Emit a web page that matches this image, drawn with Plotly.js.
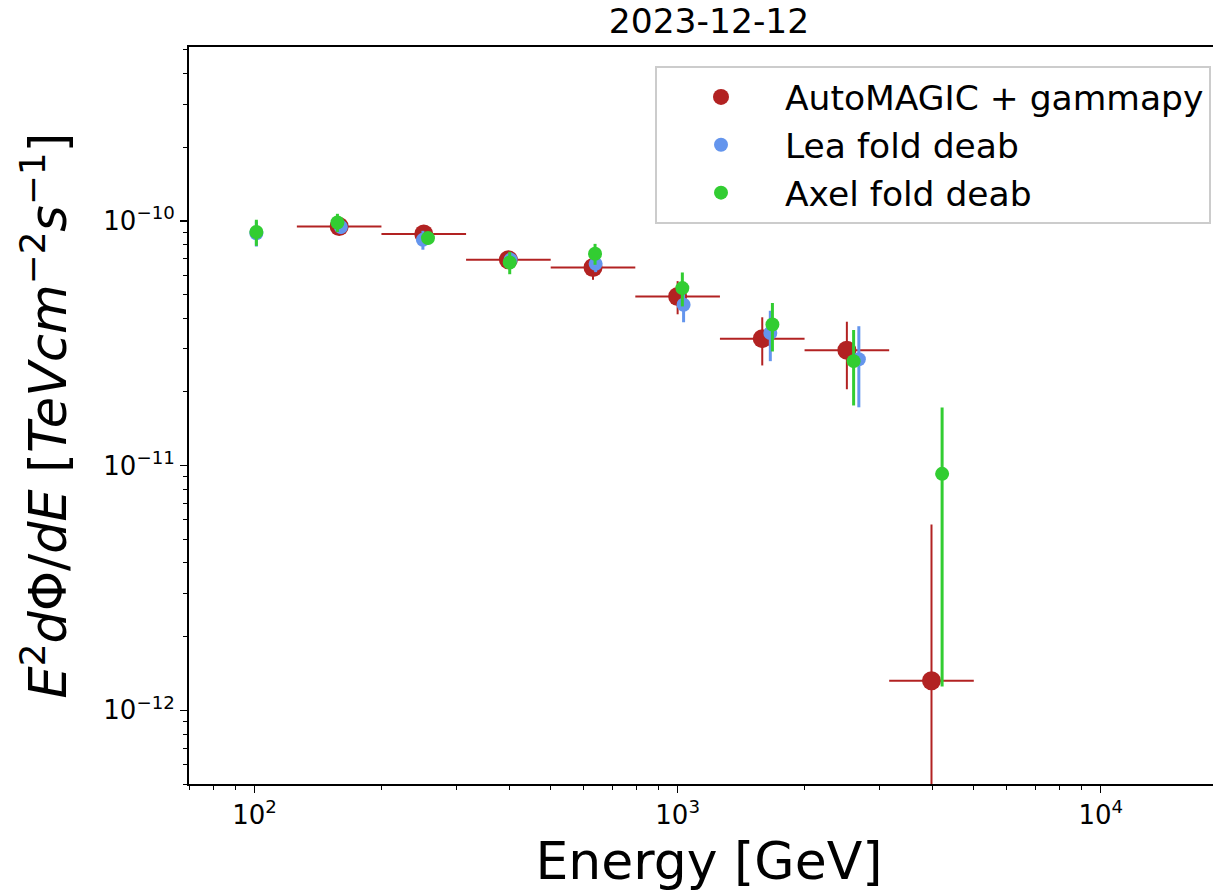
<!DOCTYPE html>
<html>
<head>
<meta charset="utf-8">
<script src="https://cdn.plot.ly/plotly-3.0.1.min.js"></script>
<style>
html, body { margin: 0; padding: 0; overflow: hidden; background: #fff; }
#chart { width: 1229px; height: 891px; }
</style>
</head>
<body>
<div id="chart"></div>
<script>
// AutoMAGIC + gammapy
const magicE     = [158.5, 251.2, 398.1, 631.0, 1000.0, 1584.9, 2511.9, 3981.1];
const magicElo   = [125.9, 199.5, 316.2, 501.2, 794.3, 1258.9, 1995.3, 3162.3];
const magicEhi   = [199.5, 316.2, 501.2, 794.3, 1258.9, 1995.3, 3162.3, 5011.9];
const magicF     = [9.48e-11, 8.83e-11, 6.93e-11, 6.45e-11, 4.91e-11, 3.30e-11, 2.96e-11, 1.32e-12];
const magicFerr  = [5.0e-12, 5.0e-12, 4.0e-12, 7.1e-12, 7.6e-12, 7.35e-12, 9.1e-12, 4.42e-12];

// Lea fold deab
const leaE    = [101, 160, 250, 403, 640, 1033, 1656, 2681];
const leaF    = [8.9e-11, 9.43e-11, 8.36e-11, 6.93e-11, 6.67e-11, 4.54e-11, 3.48e-11, 2.72e-11];
const leaFerr = [1.05e-11, 6.0e-12, 7.4e-12, 5.0e-12, 5.0e-12, 6.9e-12, 8.1e-12, 9.9e-12];

// Axel fold deab
const axelE    = [101, 157, 257, 401, 638, 1026, 1675, 2606, 4218];
const axelF    = [9.0e-11, 9.84e-11, 8.5e-11, 6.76e-11, 7.33e-11, 5.31e-11, 3.77e-11, 2.67e-11, 9.25e-12];
const axelFerr = [1.1e-11, 8.4e-12, 5.0e-12, 7.1e-12, 7.2e-12, 8.4e-12, 8.45e-12, 9.1e-12, 8.0e-12];

const seriesNames = ['AutoMAGIC + gammapy', 'Lea fold deab', 'Axel fold deab'];
const titleText = '2023-12-12';

const xTickVals = [100, 1000, 10000];
const xTickText = ['10<sup>2</sup>', '10<sup>3</sup>', '10<sup>4</sup>'];
const yTickVals = [1e-12, 1e-11, 1e-10];
const yTickText = ['10<sup>\u221212</sup>', '10<sup>\u221211</sup>', '10<sup>\u221210</sup>'];

const xRange = [70, 20100];
const yRange = [5.0e-13, 5.13e-10];

function minorVals(lo, hi) {
  const out = [];
  for (let d = Math.floor(Math.log10(lo)); d <= Math.ceil(Math.log10(hi)); d++) {
    for (let m = 2; m <= 9; m++) {
      const v = m * Math.pow(10, d);
      if (v >= lo * 0.999 && v <= hi * 1.001) out.push(v);
    }
  }
  return out;
}

const FONT = 'DejaVu Sans, Liberation Sans, sans-serif';

const traces = [
  {
    x: magicE, y: magicF, name: seriesNames[0], type: 'scatter', mode: 'markers',
    marker: { color: '#b22222', size: 19 },
    error_x: { type: 'data', symmetric: false,
      array: magicE.map((e, i) => magicEhi[i] - e),
      arrayminus: magicE.map((e, i) => e - magicElo[i]),
      color: '#b22222', thickness: 2, width: 0 },
    error_y: { type: 'data', array: magicFerr, color: '#b22222', thickness: 2, width: 0 }
  },
  {
    x: leaE, y: leaF, name: seriesNames[1], type: 'scatter', mode: 'markers',
    marker: { color: '#6495ed', size: 14 },
    error_y: { type: 'data', array: leaFerr, color: '#6495ed', thickness: 3, width: 0 }
  },
  {
    x: axelE, y: axelF, name: seriesNames[2], type: 'scatter', mode: 'markers',
    marker: { color: '#32cd32', size: 14 },
    error_y: { type: 'data', array: axelFerr, color: '#32cd32', thickness: 3, width: 0 }
  }
];

const layout = {
  width: 1229, height: 891,
  margin: { l: 189, r: 0, t: 47, b: 107 },
  paper_bgcolor: '#fff', plot_bgcolor: '#fff',
  font: { family: FONT, color: '#000' },
  title: { text: titleText, font: { size: 34.5, family: FONT, color: '#000' },
           xref: 'paper', x: 0.5, xanchor: 'center', yref: 'container', y: 1 - 21/891, yanchor: 'middle' },
  showlegend: true,
  legend: {
    x: (1211 - 189) / 1040, xanchor: 'right', y: (784 - 66) / 737, yanchor: 'top',
    bgcolor: 'rgba(255,255,255,0.8)', bordercolor: '#cccccc', borderwidth: 2,
    font: { size: 34.5, family: FONT, color: '#000' }, itemwidth: 118
  },
  xaxis: {
    type: 'log', range: xRange.map(Math.log10), autorange: false,
    showgrid: false, zeroline: false,
    showline: true, linecolor: '#000', linewidth: 2, mirror: true,
    ticks: 'outside', ticklen: 7, tickwidth: 1.5, tickcolor: '#000',
    tickmode: 'array', tickvals: xTickVals, ticktext: xTickText,
    tickfont: { size: 26, family: FONT, color: '#000' },
    minor: { ticks: 'outside', ticklen: 4, tickwidth: 1, tickcolor: '#000', tickvals: minorVals(xRange[0], xRange[1]), showgrid: false },
    title: { text: 'Energy [GeV]', font: { size: 52, family: FONT, color: '#000' }, standoff: 15 }
  },
  yaxis: {
    type: 'log', range: yRange.map(Math.log10), autorange: false,
    showgrid: false, zeroline: false,
    showline: true, linecolor: '#000', linewidth: 2, mirror: true,
    ticks: 'outside', ticklen: 7, tickwidth: 1.5, tickcolor: '#000',
    tickmode: 'array', tickvals: yTickVals, ticktext: yTickText,
    tickfont: { size: 26, family: FONT, color: '#000' },
    minor: { ticks: 'outside', ticklen: 4, tickwidth: 1, tickcolor: '#000', tickvals: minorVals(yRange[0], yRange[1]), showgrid: false },
    title: { text: '<i>E</i><sup>2</sup><i>d</i>\u03a6/<i>dE</i> [<i>TeVcm</i><sup>\u22122</sup><i>s</i><sup>\u22121</sup>]',
             font: { size: 51, family: FONT, color: '#000' }, standoff: 20 }
  }
};

Plotly.newPlot('chart', traces, layout, { displayModeBar: false, staticPlot: true });
</script>
</body>
</html>
